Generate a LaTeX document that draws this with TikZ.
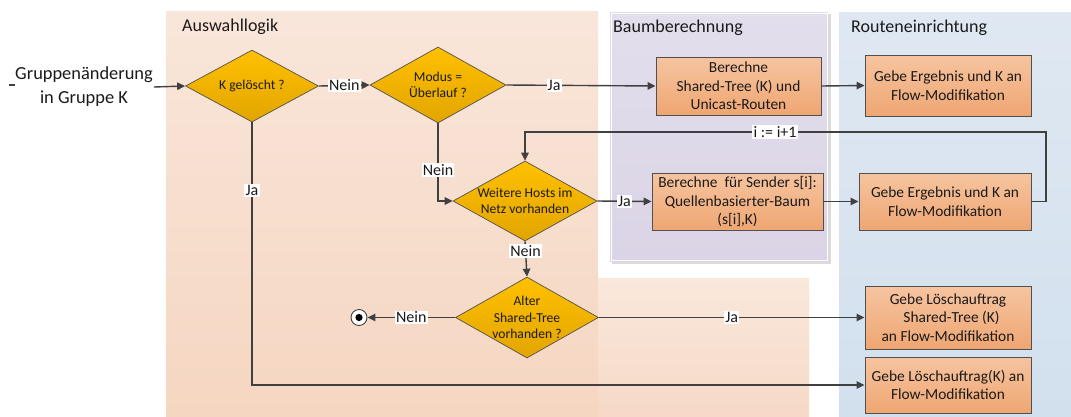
\documentclass[tikz,border=0pt]{standalone}
\usepackage{fontspec}
\setmainfont{Carlito}
\usetikzlibrary{shapes.geometric,arrows.meta}

\definecolor{lineGray}{HTML}{404040}
\definecolor{boxEdge}{HTML}{505050}
\definecolor{boxTop}{HTML}{F6C4A0}
\definecolor{boxBot}{HTML}{EFA672}
\definecolor{diaTop}{HTML}{FFC000}
\definecolor{diaBot}{HTML}{E2A500}
\definecolor{peachTop}{HTML}{F9E6DA}
\definecolor{peachBot}{HTML}{F5D6C1}
\definecolor{peachLiteTop}{HTML}{FAE8DC}
\definecolor{peachLiteBot}{HTML}{F6D9C6}
\definecolor{lavTop}{HTML}{E3DEEC}
\definecolor{lavBot}{HTML}{DAD4E6}
\definecolor{blueTop}{HTML}{DFE8F2}
\definecolor{blueBot}{HTML}{D2E0EE}
\definecolor{txt}{HTML}{1A1A1A}

\newcommand\fsTitle{\fontsize{18}{21}\selectfont}
\newcommand\fsBox{\fontsize{15.4}{18.5}\selectfont}
\newcommand\fsDia{\fontsize{13.6}{16.5}\selectfont}
\newcommand\fsLbl{\fontsize{16}{18}\selectfont}
\newcommand\fsStart{\fontsize{18.4}{24}\selectfont}

\tikzset{
  paneltitle/.style={anchor=base west, font=\fsTitle, text=txt, inner sep=0pt},
  procbox/.style={rectangle, draw=boxEdge, line width=0.9pt, top color=boxTop,
    bottom color=boxBot, align=center, font=\fsBox, text=txt, inner sep=1pt},
  decision/.style={diamond, draw=boxEdge, line width=0.7pt, top color=diaTop,
    bottom color=diaBot, inner sep=0pt},
  diatext/.style={align=center, font=\fsDia, text=txt, inner sep=0pt},
  lbl/.style={fill=white, inner sep=1.2pt, font=\fsLbl, text=txt},
  flow/.style={draw=lineGray, line width=1.4pt, -{Triangle[length=8pt,width=7.5pt]}},
  plain/.style={draw=lineGray, line width=1.4pt},
}

\begin{document}
\begin{tikzpicture}[x=1pt,y=-1pt]
\useasboundingbox (0,0) rectangle (1071,416);

% swim lanes
\fill[top color=peachTop, bottom color=peachBot] (166,11) rectangle (598,416);
\fill[top color=peachLiteTop, bottom color=peachLiteBot] (598,278) rectangle (809,416);
\fill[black!14] (612,14) rectangle (831,264);
\fill[top color=lavTop, bottom color=lavBot] (610,12) rectangle (828,261);
\draw[white, line width=1pt] (611,13) rectangle (827,260);
\fill[top color=blueTop, bottom color=blueBot] (839,12) rectangle (1071,416);

\node[paneltitle] (tA) at (182,31) {Auswahllogik};
\node[paneltitle] (tB) at (613,32) {Baumberechnung};
\node[paneltitle] (tC) at (851,32) {Routeneinrichtung};

% start
\node[align=center, font=\fsStart, text=txt, inner sep=1pt] (start) at (84,87)
  {Gruppenänderung\\in Gruppe K};
\coordinate (tickA) at (9,85);
\coordinate (tickB) at (15,85);
\draw[plain, line width=1.2pt] (tickA) -- (tickB);

% decisions (shape and text kept apart so the text never resizes the diamond)
\node[decision, minimum width=133, minimum height=72] (d1) at (252,86) {};
\node[diatext] (d1t) at (d1.center) {K gelöscht ?};
\node[decision, minimum width=136, minimum height=76] (d2) at (438,85) {};
\node[diatext] (d2t) at (d2.center) {Modus =\\Überlauf ?};
\node[decision, minimum width=144, minimum height=80] (d3) at (525,201) {};
\node[diatext] (d3t) at (d3.center) {Weitere Hosts im\\Netz vorhanden};
\node[decision, minimum width=143, minimum height=81] (d4) at (527,317.5) {};
\node[diatext] (d4t) at (d4.center) {Alter\\Shared-Tree\\vorhanden ?};

% process boxes
\node[procbox, minimum width=165, minimum height=58] (b1) at (738.5,86)
  {Berechne\\Shared-Tree (K) und\\Unicast-Routen};
\node[procbox, minimum width=166, minimum height=61] (b2) at (948,85.5)
  {Gebe Ergebnis und K an\\Flow-Modifikation};
\node[procbox, minimum width=171, minimum height=57] (b3) at (737.5,201.5)
  {Berechne\ \ für Sender s[i]:\\Quellenbasierter-Baum\\(s[i],K)};
\node[procbox, minimum width=172, minimum height=57] (b4) at (945,201.5)
  {Gebe Ergebnis und K an\\Flow-Modifikation};
\node[procbox, minimum width=166, minimum height=63] (b5) at (948,317.5)
  {Gebe Löschauftrag\\\ \ Shared-Tree (K)\\an Flow-Modifikation};
\node[procbox, minimum width=166, minimum height=56] (b6) at (948,385)
  {Gebe Löschauftrag(K) an\\Flow-Modifikation};

% end state
\node[circle, draw=lineGray, line width=0.9pt, fill=white, minimum size=16, inner sep=0pt] (stop) at (359,317.5) {};
\fill[black] (stop.center) circle (3.6);

% connectors
\draw[flow] (start.east) -- (d1.west);
\draw[flow] (d1.east) -- node[lbl] {Nein} (d2.west);
\draw[flow] (d2.east) -- node[lbl, pos=0.32] {Ja} (b1.west);
\draw[flow] (b1.east) -- (b2.west);
\draw[flow] (d2.south) |- node[lbl, pos=0.3] {Nein} (d3.west);
\draw[flow] (d3.east) -- node[lbl] {Ja} (b3.west);
\draw[flow] (b3.east) -- (b4.west);
\coordinate (loopR) at (1046,132);
\draw[flow] (b4.east) -| (loopR) -- node[lbl, pos=0.52] {i := i+1} (loopR -| d3.north) -- (d3.north);
\draw[flow] (d3.south) -- node[lbl, pos=0.28] {Nein} (d4.north);
\draw[flow] (d4.west) -- node[lbl] {Nein} (stop.east);
\draw[flow] (d4.east) -- node[lbl] {Ja} (d4.east -| b5.west);
\draw[flow] (d1.south) |- node[lbl, pos=0.13] {Ja} (b6.west);

\end{tikzpicture}
\end{document}
